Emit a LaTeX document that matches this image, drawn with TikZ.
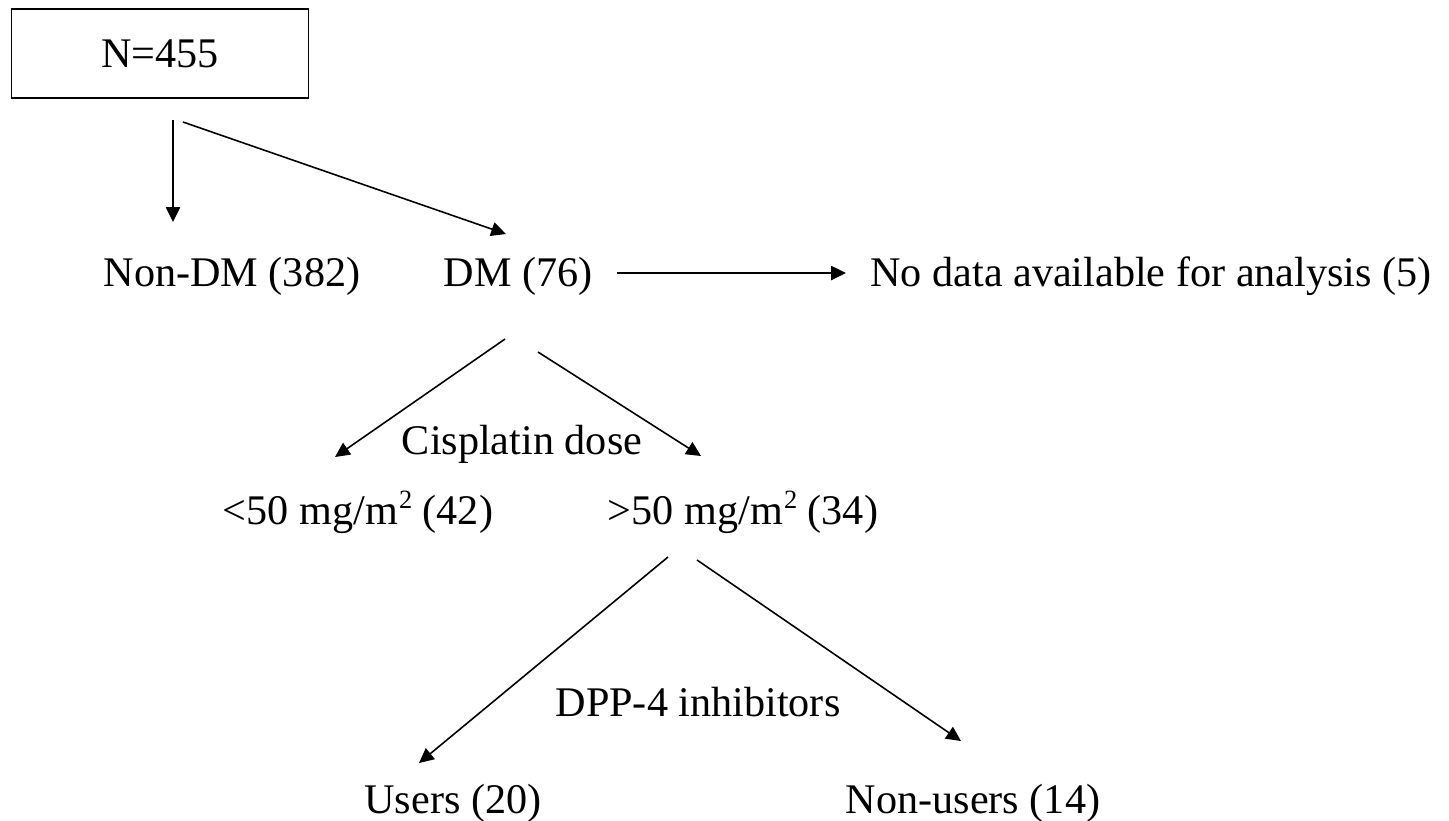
\documentclass[tikz,border=0pt]{standalone}
\usepackage{fontspec}
\setmainfont{Liberation Serif}
\usetikzlibrary{arrows.meta}
\newcommand{\sqm}{m\kern0.3pt\raisebox{0.8ex}{\fontsize{7.5}{8}\selectfont 2}}
\tikzset{
  lbl/.style={inner sep=0pt, anchor=base, font=\fontsize{12}{14}\selectfont},
  arr/.style={line width=0.45pt, -{Triangle[length=4.2pt,width=4pt]}},
  boxn/.style={draw, line width=0.45pt, minimum width=298*0.2835pt, minimum height=89*0.2835pt, inner sep=0pt}
}
\begin{document}
\begin{tikzpicture}[x=0.01cm,y=-0.01cm]
\useasboundingbox (0,0) rectangle (1449,820);
\node[boxn] (top) at (160,53.5) {};
\node[lbl] (topt) at (160,67) {N=455};
\node[lbl] (nondm) at (232,286) {Non-DM (382)};
\node[lbl] (dm) at (518,286) {DM (76)};
\node[lbl] (nodata) at (1151,286) {No data available for analysis (5)};
\node[lbl] (cis) at (522,454) {Cisplatin dose};
\node[lbl] (lo) at (358,524) {<50 mg/\sqm{} (42)};
\node[lbl] (hi) at (743,524) {>50 mg/\sqm{} (34)};
\node[lbl] (dpp) at (698,716) {DPP-4 inhibitors};
\node[lbl] (users) at (453,813) {Users (20)};
\node[lbl] (nonusers) at (973,813) {Non-users (14)};
\coordinate (a1s) at (173,120); \coordinate (a1e) at (173,222);
\coordinate (a2s) at (183,122); \coordinate (a2e) at (506,234);
\coordinate (a3s) at (617,273); \coordinate (a3e) at (846,273);
\coordinate (a4s) at (505,339); \coordinate (a4e) at (335,457);
\coordinate (a5s) at (538,352); \coordinate (a5e) at (701,456);
\coordinate (a6s) at (668,557); \coordinate (a6e) at (419,763);
\coordinate (a7s) at (697,560); \coordinate (a7e) at (961,741);
\draw[arr] (a1s) -- (a1e);
\draw[arr] (a2s) -- (a2e);
\draw[arr] (a3s) -- (a3e);
\draw[arr] (a4s) -- (a4e);
\draw[arr] (a5s) -- (a5e);
\draw[arr] (a6s) -- (a6e);
\draw[arr] (a7s) -- (a7e);
\end{tikzpicture}
\end{document}
